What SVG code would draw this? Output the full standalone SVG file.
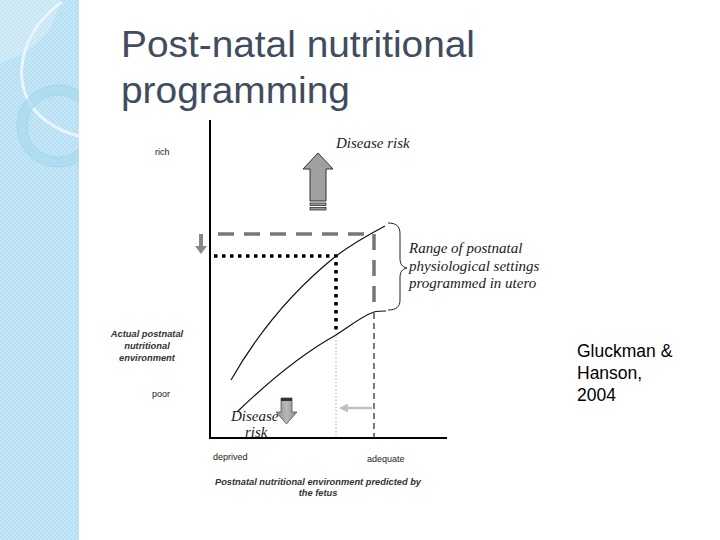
<svg xmlns="http://www.w3.org/2000/svg" width="720" height="540" viewBox="0 0 720 540">
<defs>
<pattern id="chk" width="4" height="4" patternUnits="userSpaceOnUse">
<rect width="4" height="4" fill="#c4e6f6"/>
<rect width="2" height="2" fill="#b6dff2"/>
<rect x="2" y="2" width="2" height="2" fill="#b6dff2"/>
</pattern>
<linearGradient id="ag" x1="0" y1="0" x2="1" y2="0">
<stop offset="0" stop-color="#8a8a8a"/><stop offset="0.5" stop-color="#b8b8b8"/><stop offset="1" stop-color="#8a8a8a"/>
</linearGradient>
<marker id="lah" markerWidth="9" markerHeight="9" refX="2" refY="4.5" orient="auto" markerUnits="userSpaceOnUse">
<path d="M0,0 L9,4.5 L0,9 Z" fill="#c0c0c0"/>
</marker>
</defs>
<style>
.title{font-family:"Liberation Sans",Arial,sans-serif;font-size:36px;fill:#414c5e}
.sm{font-family:"Liberation Sans",Arial,sans-serif;font-size:9px;fill:#222}
.smi{font-family:"Liberation Sans",Arial,sans-serif;font-size:9.3px;font-style:italic;font-weight:bold;fill:#333}
.ser{font-family:"Liberation Serif","Times New Roman",serif;font-size:15px;font-style:italic;fill:#222}
.cite{font-family:"Liberation Sans",Arial,sans-serif;font-size:17.5px;fill:#000}
.curve{fill:none;stroke:#111;stroke-width:1.2}
</style>
<rect width="720" height="540" fill="#fff"/>
<g id="background">
<rect x="0" y="0" width="79" height="540" fill="url(#chk)"/>
<path d="M0,62 A75,75 0 0 0 60,0 L0,0 Z" fill="#ffffff" fill-opacity="0.25"/>
<path d="M62,2 C20,30 5,90 45,120 C58,130 70,134 79,136" fill="none" stroke="#e8f6fc" stroke-width="3"/>
<circle cx="58" cy="126" r="36" fill="none" stroke="#a9d8ef" stroke-width="10" stroke-opacity="0.7"/>
<circle cx="58" cy="126" r="41" fill="none" stroke="#9ccde6" stroke-width="0.6"/>
<circle cx="58" cy="126" r="31" fill="none" stroke="#9ccde6" stroke-width="0.6"/>
<rect x="79" y="0" width="641" height="540" fill="#fff"/>
</g>
<g id="title">
<text class="title" x="121" y="57" textLength="354" lengthAdjust="spacingAndGlyphs">Post-natal nutritional</text>
<text class="title" x="121" y="103" textLength="229" lengthAdjust="spacingAndGlyphs">programming</text>
</g>
<g id="axes">
<line x1="210" y1="120" x2="210" y2="439" stroke="#000" stroke-width="2"/>
<line x1="209" y1="438" x2="447" y2="438" stroke="#000" stroke-width="2"/>
</g>
<g id="axis-labels">
<text class="sm" x="155" y="155">rich</text>
<text class="sm" x="152" y="397">poor</text>
<text class="smi" x="147" y="337" text-anchor="middle">Actual postnatal</text>
<text class="smi" x="147" y="349" text-anchor="middle">nutritional</text>
<text class="smi" x="147" y="361" text-anchor="middle">environment</text>
<text class="sm" x="213" y="460">deprived</text>
<text class="sm" x="367" y="462">adequate</text>
<text class="smi" x="318" y="485" text-anchor="middle">Postnatal  nutritional environment predicted by</text>
<text class="smi" x="318" y="496" text-anchor="middle">the fetus</text>
</g>
<g id="connectors">
<path d="M218,234 H374 V312" fill="none" stroke="#777" stroke-width="3.5" stroke-dasharray="16,10"/>
<line x1="374" y1="313" x2="374" y2="438" stroke="#333" stroke-width="1.3" stroke-dasharray="6,4"/>
<path d="M214,256 H336 V332" fill="none" stroke="#000" stroke-width="3.5" stroke-dasharray="3.5,4.5"/>
<line x1="336" y1="333" x2="336" y2="438" stroke="#aaa" stroke-width="1" stroke-dasharray="1.5,2"/>
<line x1="372" y1="408" x2="346" y2="408" stroke="#c0c0c0" stroke-width="2.5" marker-end="url(#lah)"/>
</g>
<g id="curves">
<path class="curve" d="M231,380 C255,338 290,293 336,256 C352,244 368,235 385,226"/>
<path class="curve" d="M237,412 C265,385 300,355 336,335 C350,326 362,316 374,312 C378,311 382,311 386,311"/>
</g>
<g id="brace">
<path d="M388,223 C396,223 400,226 400,234 L400,258 C400,264 402,267 407,268 C402,269 400,272 400,278 L400,300 C400,307 396,310 388,310" fill="none" stroke="#222" stroke-width="1"/>
</g>
<g id="range-label">
<text class="ser" x="409" y="253">Range of postnatal</text>
<text class="ser" x="409" y="271">physiological settings</text>
<text class="ser" x="409" y="288">programmed in utero</text>
</g>
<g id="disease-risk-up">
<text class="ser" x="336" y="148">Disease risk</text>
<path d="M318,153 L333,169 L326,169 L326,201 L310,201 L310,169 L303,169 Z" fill="#a0a0a0" stroke="#333" stroke-width="1"/>
<rect x="310" y="203" width="16" height="2.5" fill="#999" stroke="#333" stroke-width="0.8"/>
<rect x="310" y="207.5" width="16" height="2.5" fill="#999" stroke="#333" stroke-width="0.8"/>
</g>
<g id="small-down-arrow">
<path d="M199,234 L199,246 L195,246 L201,254 L207,246 L203,246 L203,234 Z" fill="#888"/>
</g>
<g id="disease-risk-down">
<path d="M281,398 L292,398 L292,412 L297,412 L286.5,424 L276,412 L281,412 Z" fill="url(#ag)" stroke="#555" stroke-width="0.8"/>
<rect x="281" y="398" width="11" height="3" fill="#333"/>
<text class="ser" x="231" y="421">Disease</text>
<text class="ser" x="245" y="437">risk</text>
</g>
<g id="citation">
<text class="cite" x="577" y="357">Gluckman &amp;</text>
<text class="cite" x="577" y="379">Hanson,</text>
<text class="cite" x="577" y="401">2004</text>
</g>
</svg>
